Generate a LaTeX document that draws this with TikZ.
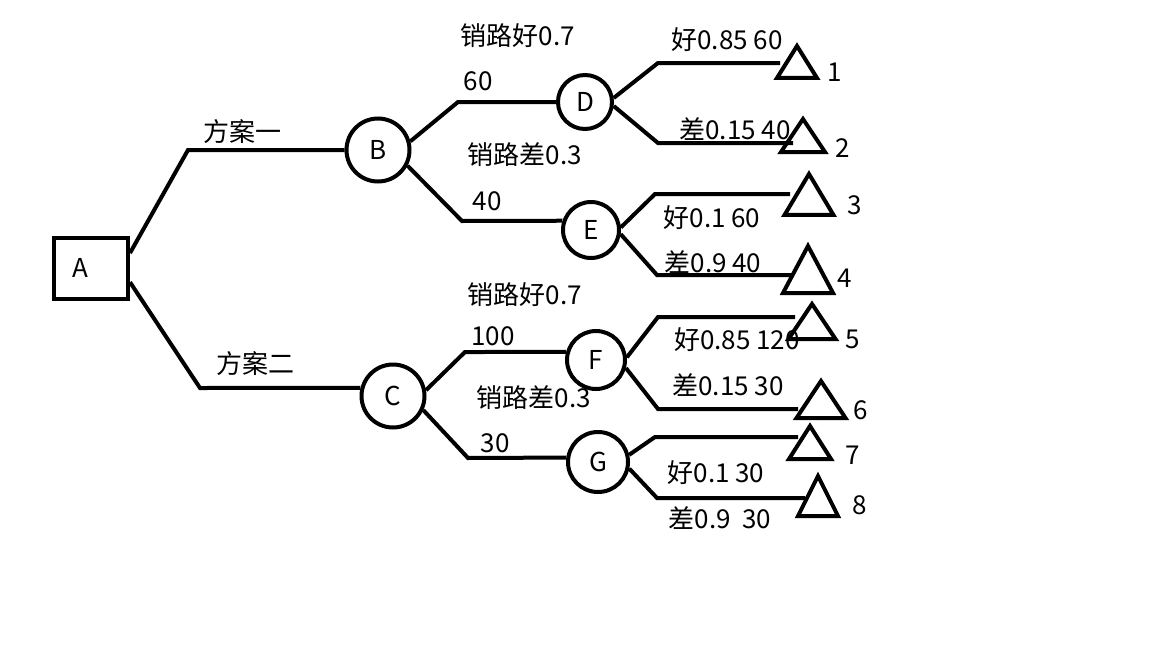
\documentclass[tikz,border=0pt]{standalone}
\usepackage{fontspec}
\setmainfont{Noto Sans CJK SC}
\usetikzlibrary{shapes.geometric,positioning}
\tikzset{
  dec/.style={rectangle,draw,line width=4pt,minimum width=74pt,minimum height=61pt,inner sep=0pt},
  chn/.style={circle,draw,line width=4pt,minimum size=56pt,inner sep=0pt},
  leaf/.style={isosceles triangle,isosceles triangle stretches,shape border rotate=90,draw,line width=4pt,inner sep=0pt,anchor=south},
  br/.style={line width=4pt},
  lbl/.style={inner sep=0pt},
}
\begin{document}
\begin{tikzpicture}[x=1pt,y=-1pt,font=\fontsize{26}{30}\selectfont]
  \useasboundingbox (0,0) rectangle (1152,648);
  % decision node and chance nodes
  \node[dec,label={[xshift=-11pt]center:A}] (A) at (91,268) {};
  \node[chn,minimum size=63pt] (B) at (378,150) {B};
  \node[chn,minimum size=63pt] (C) at (393,396) {C};
  \node[chn,minimum size=54pt] (D) at (585,102) {D};
  \node[chn,minimum size=56pt] (E) at (591,230) {E};
  \node[chn,minimum size=58pt] (F) at (596,360) {F};
  \node[chn,minimum size=60pt] (G) at (598,462) {G};
  % bend points
  \coordinate (b1) at (188,150); \coordinate (c1) at (200,388);
  \coordinate (d1) at (458,102); \coordinate (e1) at (462,221);
  \coordinate (f1) at (465,352); \coordinate (g1) at (468,458);
  \coordinate (p1) at (658,63);  \coordinate (q1) at (780,63);
  \coordinate (p2) at (658,143); \coordinate (q2) at (793,143);
  \coordinate (p3) at (655,194); \coordinate (q3) at (790,194);
  \coordinate (p4) at (657,275); \coordinate (q4) at (793,275);
  \coordinate (p5) at (658,317); \coordinate (q5) at (795,317);
  \coordinate (p6) at (658,409); \coordinate (q6) at (798,409);
  \coordinate (p7) at (655,437); \coordinate (q7) at (798,437);
  \coordinate (p8) at (657,498); \coordinate (q8) at (805,498);
  % branches
  \draw[br] (A.21) -- (b1) -- (B);
  \draw[br] (A.-20) -- (c1) -- (C.166);
  \draw[br] (B.15) -- (d1) -- (D);
  \draw[br] (B.-28) -- (e1) -- (E.162);
  \draw[br] (C.10) -- (f1) -- (F.165);
  \draw[br] (C.-25) -- (g1) -- (G.172);
  \draw[br] (D.8) -- (p1) -- (q1);
  \draw[br] (D.-8) -- (p2) -- (q2);
  \draw[br] (E.5) -- (p3) -- (q3);
  \draw[br] (E.-8) -- (p4) -- (q4);
  \draw[br] (F.5) -- (p5) -- (q5);
  \draw[br] (F.-15) -- (p6) -- (q6);
  \draw[br] (G.13) -- (p7) -- (q7);
  \draw[br] (G.-12) -- (p8) -- (q8);
  % end nodes
  \node[leaf,minimum width=40pt,minimum height=32pt] (t1) at (797,80) {};
  \node[leaf,minimum width=44pt,minimum height=33pt] (t2) at (803,154) {};
  \node[leaf,minimum width=49pt,minimum height=41pt] (t3) at (809,217) {};
  \node[leaf,minimum width=50pt,minimum height=47pt] (t4) at (808,295) {};
  \node[leaf,minimum width=47pt,minimum height=35pt] (t5) at (812,341) {};
  \node[leaf,minimum width=49pt,minimum height=37pt] (t6) at (821,420) {};
  \node[leaf,minimum width=42pt,minimum height=33pt] (t7) at (810,461) {};
  \node[leaf,minimum width=40pt,minimum height=40pt] (t8) at (818,518) {};
  \node[lbl] (n1) at (835,72) {1};
  \node[lbl] (n2) at (843,148) {2};
  \node[lbl] (n3) at (855,205) {3};
  \node[lbl] (n4) at (845,278) {4};
  \node[lbl] (n5) at (853,339) {5};
  \node[lbl] (n6) at (861,410) {6};
  \node[lbl] (n7) at (853,455) {7};
  \node[lbl] (n8) at (860,505) {8};
  % branch labels
  \node[lbl] (s1) at (242,132) {方案一};
  \node[lbl] (s2) at (255,364) {方案二};
  \node[lbl] (bd) at (518,36) {销路好0.7};
  \node[lbl] (bdv) at (478,81) {60};
  \node[lbl] (be) at (525,155) {销路差0.3};
  \node[lbl] (bev) at (487,201) {40};
  \node[lbl] (cf) at (525,295) {销路好0.7};
  \node[lbl] (cfv) at (493,336) {100};
  \node[lbl] (cg) at (534,398) {销路差0.3};
  \node[lbl] (cgv) at (495,443) {30};
  \node[lbl] (l1) at (727,40) {好0.85 60};
  \node[lbl] (l2) at (735,129) {差0.15 40};
  \node[lbl] (l3) at (712,218) {好0.1 60};
  \node[lbl] (l4) at (713,262) {差0.9 40};
  \node[lbl] (l5) at (737,340) {好0.85 120};
  \node[lbl] (l6) at (728,385) {差0.15 30};
  \node[lbl] (l7) at (716,473) {好0.1 30};
  \node[lbl] (l8) at (720,518) {差0.9~ 30};
\end{tikzpicture}
\end{document}
